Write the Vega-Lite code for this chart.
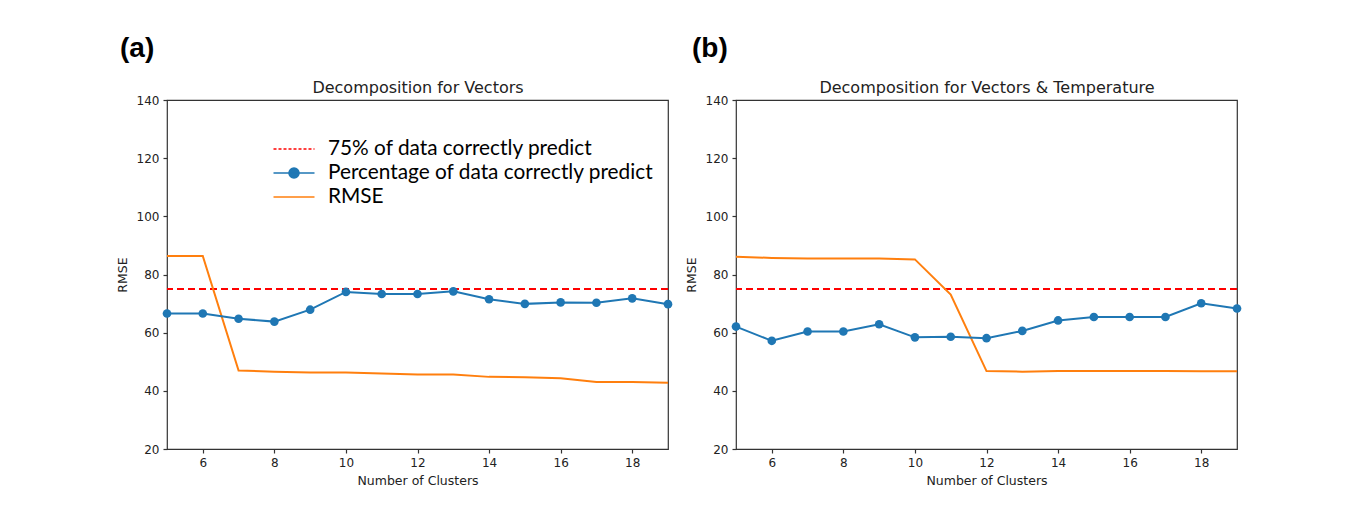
{
  "$schema": "https://vega.github.io/schema/vega-lite/v6.json",
  "background": "white",
  "autosize": {"type": "pad"},
  "padding": {"left": 115, "top": 34, "right": 109, "bottom": 40},
  "bounds": "flush",
  "spacing": 68,
  "datasets": {
    "ref": [{"v": 75, "series": "75% of data correctly predict"}],
    "a_rmse": [
      {"k": 5, "v": 86.4, "series": "RMSE"}, {"k": 6, "v": 86.4, "series": "RMSE"}, {"k": 7, "v": 47.0, "series": "RMSE"},
      {"k": 8, "v": 46.6, "series": "RMSE"}, {"k": 9, "v": 46.3, "series": "RMSE"}, {"k": 10, "v": 46.3, "series": "RMSE"},
      {"k": 11, "v": 46.0, "series": "RMSE"}, {"k": 12, "v": 45.6, "series": "RMSE"}, {"k": 13, "v": 45.6, "series": "RMSE"},
      {"k": 14, "v": 44.8, "series": "RMSE"}, {"k": 15, "v": 44.7, "series": "RMSE"}, {"k": 16, "v": 44.3, "series": "RMSE"},
      {"k": 17, "v": 43.0, "series": "RMSE"}, {"k": 18, "v": 43.0, "series": "RMSE"}, {"k": 19, "v": 42.8, "series": "RMSE"}
    ],
    "a_pct": [
      {"k": 5, "v": 66.6, "series": "Percentage of data correctly predict"}, {"k": 6, "v": 66.6, "series": "Percentage of data correctly predict"},
      {"k": 7, "v": 64.8, "series": "Percentage of data correctly predict"}, {"k": 8, "v": 63.8, "series": "Percentage of data correctly predict"},
      {"k": 9, "v": 67.9, "series": "Percentage of data correctly predict"}, {"k": 10, "v": 74.0, "series": "Percentage of data correctly predict"},
      {"k": 11, "v": 73.3, "series": "Percentage of data correctly predict"}, {"k": 12, "v": 73.3, "series": "Percentage of data correctly predict"},
      {"k": 13, "v": 74.2, "series": "Percentage of data correctly predict"}, {"k": 14, "v": 71.5, "series": "Percentage of data correctly predict"},
      {"k": 15, "v": 69.9, "series": "Percentage of data correctly predict"}, {"k": 16, "v": 70.4, "series": "Percentage of data correctly predict"},
      {"k": 17, "v": 70.3, "series": "Percentage of data correctly predict"}, {"k": 18, "v": 71.8, "series": "Percentage of data correctly predict"},
      {"k": 19, "v": 69.8, "series": "Percentage of data correctly predict"}
    ],
    "b_rmse": [
      {"k": 5, "v": 86.1, "series": "RMSE"}, {"k": 6, "v": 85.7, "series": "RMSE"}, {"k": 7, "v": 85.5, "series": "RMSE"},
      {"k": 8, "v": 85.5, "series": "RMSE"}, {"k": 9, "v": 85.5, "series": "RMSE"}, {"k": 10, "v": 85.2, "series": "RMSE"},
      {"k": 11, "v": 73.1, "series": "RMSE"}, {"k": 12, "v": 46.8, "series": "RMSE"}, {"k": 13, "v": 46.6, "series": "RMSE"},
      {"k": 14, "v": 46.8, "series": "RMSE"}, {"k": 15, "v": 46.8, "series": "RMSE"}, {"k": 16, "v": 46.8, "series": "RMSE"},
      {"k": 17, "v": 46.8, "series": "RMSE"}, {"k": 18, "v": 46.7, "series": "RMSE"}, {"k": 19, "v": 46.7, "series": "RMSE"}
    ],
    "b_pct": [
      {"k": 5, "v": 62.1, "series": "Percentage of data correctly predict"}, {"k": 6, "v": 57.2, "series": "Percentage of data correctly predict"},
      {"k": 7, "v": 60.4, "series": "Percentage of data correctly predict"}, {"k": 8, "v": 60.4, "series": "Percentage of data correctly predict"},
      {"k": 9, "v": 62.9, "series": "Percentage of data correctly predict"}, {"k": 10, "v": 58.4, "series": "Percentage of data correctly predict"},
      {"k": 11, "v": 58.6, "series": "Percentage of data correctly predict"}, {"k": 12, "v": 58.1, "series": "Percentage of data correctly predict"},
      {"k": 13, "v": 60.6, "series": "Percentage of data correctly predict"}, {"k": 14, "v": 64.2, "series": "Percentage of data correctly predict"},
      {"k": 15, "v": 65.4, "series": "Percentage of data correctly predict"}, {"k": 16, "v": 65.4, "series": "Percentage of data correctly predict"},
      {"k": 17, "v": 65.4, "series": "Percentage of data correctly predict"}, {"k": 18, "v": 70.1, "series": "Percentage of data correctly predict"},
      {"k": 19, "v": 68.3, "series": "Percentage of data correctly predict"}
    ]
  },
  "config": {
    "view": {"stroke": "#333333", "strokeWidth": 1.2},
    "axis": {
      "labelFont": "DejaVu Sans", "titleFont": "DejaVu Sans",
      "labelFontSize": 12, "titleFontSize": 12.5, "titleFontWeight": "normal",
      "labelColor": "#222222", "titleColor": "#222222",
      "tickColor": "#333333", "tickSize": 4, "tickWidth": 1.2,
      "grid": false, "domain": false, "labelPadding": 4
    },
    "title": {"font": "Liberation Sans", "fontSize": 28, "fontWeight": "bold", "color": "black", "anchor": "start", "frame": "group"}
  },
  "hconcat": [
    {
      "width": 501, "height": 349,
      "title": {"text": "(a)", "dx": -47, "offset": 16},
      "resolve": {"axis": {"x": "independent"}},
      "layer": [
        {
          "data": {"name": "ref"},
          "mark": {"type": "rule", "strokeDash": [7, 4], "strokeWidth": 2},
          "encoding": {
            "y": {"field": "v", "type": "quantitative", "scale": {"domain": [20, 140], "nice": false, "zero": false},
                  "axis": {"title": "RMSE", "values": [20, 40, 60, 80, 100, 120, 140], "titlePadding": 7}},
            "color": {
              "field": "series", "type": "nominal",
              "scale": {"domain": ["75% of data correctly predict", "Percentage of data correctly predict", "RMSE"], "range": ["#ff0000", "#1f77b4", "#ff7f0e"]},
              "legend": {
                "orient": "none", "legendX": 116, "legendY": 38, "title": null, "padding": 0,
                "symbolSize": 400, "symbolStrokeWidth": 1.6,
                "labelFont": "Lato", "labelFontSize": 20.8, "labelColor": "black", "labelOffset": 23, "labelLimit": 600,
                "rowPadding": 3,
                "encode": {
                  "symbols": {
                    "update": {
                      "shape": {"signal": "datum.value === 'Percentage of data correctly predict' ? 'M-2.05,0H2.05M0.5,0A0.5,0.5 0 1 1 -0.5,0A0.5,0.5 0 1 1 0.5,0Z' : 'M-2.05,0H2.05'"},
                      "fill": {"signal": "datum.value === 'Percentage of data correctly predict' ? '#1f77b4' : 'transparent'"},
                      "strokeDash": {"signal": "datum.value === '75% of data correctly predict' ? [3, 2] : []"}
                    }
                  }
                }
              }
            }
          }
        },
        {
          "data": {"name": "a_rmse"},
          "mark": {"type": "line", "strokeWidth": 2},
          "encoding": {
            "x": {"field": "k", "type": "quantitative", "scale": {"domain": [5, 19], "nice": false, "zero": false},
                  "axis": {"orient": "top", "title": "Decomposition for Vectors", "labels": false, "ticks": false, "titleFontSize": 16, "titlePadding": 5}},
            "y": {"field": "v", "type": "quantitative",
                  "axis": {"title": "RMSE", "values": [20, 40, 60, 80, 100, 120, 140], "titlePadding": 7}},
            "color": {"field": "series", "type": "nominal"}
          }
        },
        {
          "data": {"name": "a_pct"},
          "mark": {"type": "line", "strokeWidth": 2, "point": {"filled": true, "size": 75}},
          "encoding": {
            "x": {"field": "k", "type": "quantitative",
                  "axis": {"orient": "bottom", "title": "Number of Clusters", "values": [6, 8, 10, 12, 14, 16, 18], "titlePadding": 6}},
            "y": {"field": "v", "type": "quantitative",
                  "axis": {"title": "RMSE", "values": [20, 40, 60, 80, 100, 120, 140], "titlePadding": 7}},
            "color": {"field": "series", "type": "nominal"}
          }
        }
      ]
    },
    {
      "width": 501, "height": 349,
      "title": {"text": "(b)", "dx": -44, "offset": 16},
      "resolve": {"axis": {"x": "independent"}},
      "layer": [
        {
          "data": {"name": "ref"},
          "mark": {"type": "rule", "strokeDash": [7, 4], "strokeWidth": 2},
          "encoding": {
            "y": {"field": "v", "type": "quantitative", "scale": {"domain": [20, 140], "nice": false, "zero": false},
                  "axis": {"title": "RMSE", "values": [20, 40, 60, 80, 100, 120, 140], "titlePadding": 7}},
            "color": {"field": "series", "type": "nominal"}
          }
        },
        {
          "data": {"name": "b_rmse"},
          "mark": {"type": "line", "strokeWidth": 2},
          "encoding": {
            "x": {"field": "k", "type": "quantitative", "scale": {"domain": [5, 19], "nice": false, "zero": false},
                  "axis": {"orient": "top", "title": "Decomposition for Vectors & Temperature", "labels": false, "ticks": false, "titleFontSize": 16, "titlePadding": 5}},
            "y": {"field": "v", "type": "quantitative",
                  "axis": {"title": "RMSE", "values": [20, 40, 60, 80, 100, 120, 140], "titlePadding": 7}},
            "color": {"field": "series", "type": "nominal"}
          }
        },
        {
          "data": {"name": "b_pct"},
          "mark": {"type": "line", "strokeWidth": 2, "point": {"filled": true, "size": 75}},
          "encoding": {
            "x": {"field": "k", "type": "quantitative",
                  "axis": {"orient": "bottom", "title": "Number of Clusters", "values": [6, 8, 10, 12, 14, 16, 18], "titlePadding": 6}},
            "y": {"field": "v", "type": "quantitative",
                  "axis": {"title": "RMSE", "values": [20, 40, 60, 80, 100, 120, 140], "titlePadding": 7}},
            "color": {"field": "series", "type": "nominal"}
          }
        }
      ]
    }
  ]
}
